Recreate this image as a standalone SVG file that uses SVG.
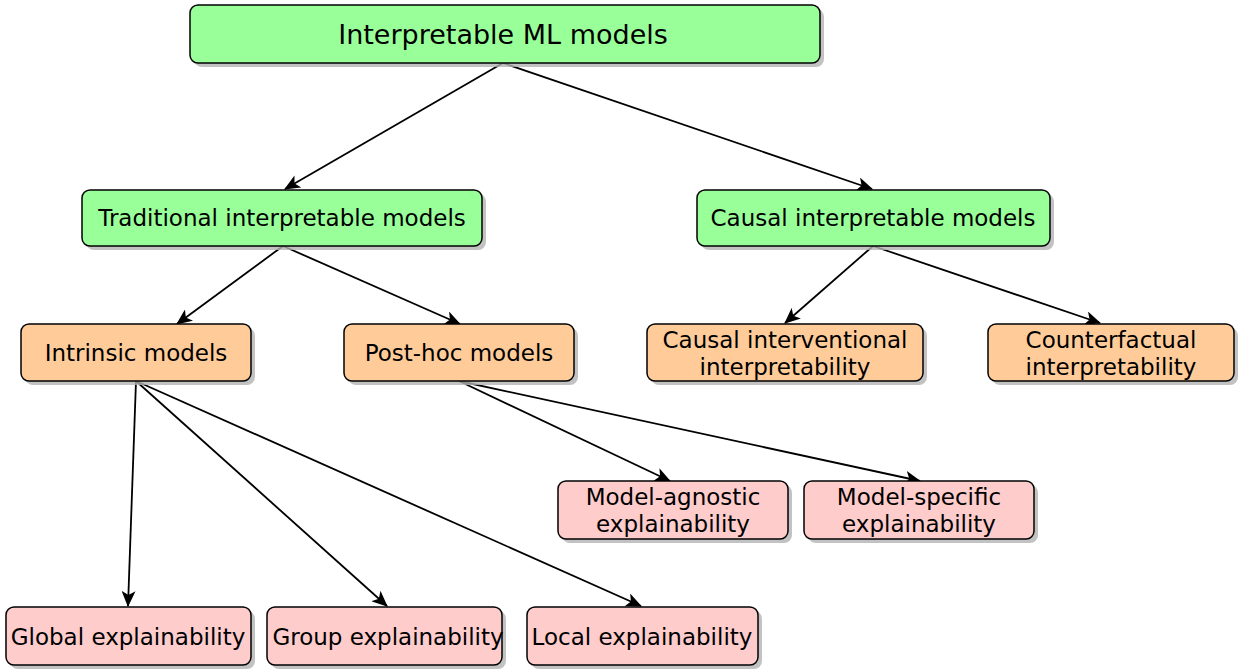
<svg xmlns="http://www.w3.org/2000/svg" width="1245" height="670" viewBox="0 0 1245 670">
<defs>
<marker id="ah" viewBox="0 0 16 14" refX="15" refY="7" markerWidth="16" markerHeight="14" markerUnits="userSpaceOnUse" orient="auto">
<path d="M0,0 L16,7 L0,14 L4,7 Z" fill="#000"/>
</marker>
</defs>
<style>
.sh{fill:#b3b3b3;opacity:0.8}
.g{fill:#99ff99;stroke:#000;stroke-width:1.5}
.o{fill:#ffcc99;stroke:#000;stroke-width:1.5}
.p{fill:#ffcccc;stroke:#000;stroke-width:1.5}
text{font-family:"DejaVu Sans",Verdana,sans-serif;font-size:23px;fill:#000;text-anchor:middle}
.big{font-size:27px}
.e{stroke:#000;stroke-width:1.8;fill:none;marker-end:url(#ah)}
</style>
<rect width="1245" height="670" fill="#fff"/>
<g id="connectors">
<line class="e" x1="503" y1="63" x2="285" y2="189"/>
<line class="e" x1="503" y1="63" x2="872" y2="189"/>
<line class="e" x1="283" y1="246" x2="177" y2="324"/>
<line class="e" x1="283" y1="246" x2="460" y2="324"/>
<line class="e" x1="873" y1="246" x2="785" y2="323"/>
<line class="e" x1="873" y1="246" x2="1100" y2="323"/>
<line class="e" x1="136" y1="381" x2="128" y2="606"/>
<line class="e" x1="136" y1="381" x2="387" y2="606"/>
<line class="e" x1="136" y1="381" x2="641" y2="606"/>
<line class="e" x1="459" y1="381" x2="670" y2="481"/>
<line class="e" x1="459" y1="381" x2="920" y2="481"/>
</g>
<g id="root">
<rect class="sh" x="194" y="9" width="630" height="58" rx="8"/>
<rect class="g" x="190" y="5" width="630" height="58" rx="8"/>
<text class="big" x="503" y="44">Interpretable ML models</text>
</g>
<g id="traditional">
<rect class="sh" x="86" y="194" width="400" height="56" rx="8"/>
<rect class="g" x="82" y="190" width="400" height="56" rx="8"/>
<text x="282" y="226">Traditional interpretable models</text>
</g>
<g id="causal">
<rect class="sh" x="701" y="194" width="353" height="56" rx="8"/>
<rect class="g" x="697" y="190" width="353" height="56" rx="8"/>
<text x="873" y="226">Causal interpretable models</text>
</g>
<g id="intrinsic">
<rect class="sh" x="25" y="328" width="230" height="57" rx="8"/>
<rect class="o" x="21" y="324" width="230" height="57" rx="8"/>
<text x="136" y="361">Intrinsic models</text>
</g>
<g id="posthoc">
<rect class="sh" x="348" y="328" width="230" height="57" rx="8"/>
<rect class="o" x="344" y="324" width="230" height="57" rx="8"/>
<text x="459" y="361">Post-hoc models</text>
</g>
<g id="interventional">
<rect class="sh" x="651" y="328" width="276" height="57" rx="8"/>
<rect class="o" x="647" y="324" width="276" height="57" rx="8"/>
<text x="785" y="348">Causal interventional</text>
<text x="785" y="375">interpretability</text>
</g>
<g id="counterfactual">
<rect class="sh" x="992" y="328" width="246" height="57" rx="8"/>
<rect class="o" x="988" y="324" width="246" height="57" rx="8"/>
<text x="1111" y="348">Counterfactual</text>
<text x="1111" y="375">interpretability</text>
</g>
<g id="agnostic">
<rect class="sh" x="562" y="485" width="230" height="58" rx="8"/>
<rect class="p" x="558" y="481" width="230" height="58" rx="8"/>
<text x="673" y="505">Model-agnostic</text>
<text x="673" y="532">explainability</text>
</g>
<g id="specific">
<rect class="sh" x="808" y="485" width="230" height="58" rx="8"/>
<rect class="p" x="804" y="481" width="230" height="58" rx="8"/>
<text x="919" y="505">Model-specific</text>
<text x="919" y="532">explainability</text>
</g>
<g id="global">
<rect class="sh" x="10" y="611" width="245" height="58" rx="8"/>
<rect class="p" x="6" y="607" width="245" height="58" rx="8"/>
<text x="128" y="645">Global explainability</text>
</g>
<g id="group">
<rect class="sh" x="271" y="611" width="235" height="58" rx="8"/>
<rect class="p" x="267" y="607" width="235" height="58" rx="8"/>
<text x="388" y="645">Group explainability</text>
</g>
<g id="local">
<rect class="sh" x="531" y="611" width="231" height="58" rx="8"/>
<rect class="p" x="527" y="607" width="231" height="58" rx="8"/>
<text x="642" y="645">Local explainability</text>
</g>
</svg>
